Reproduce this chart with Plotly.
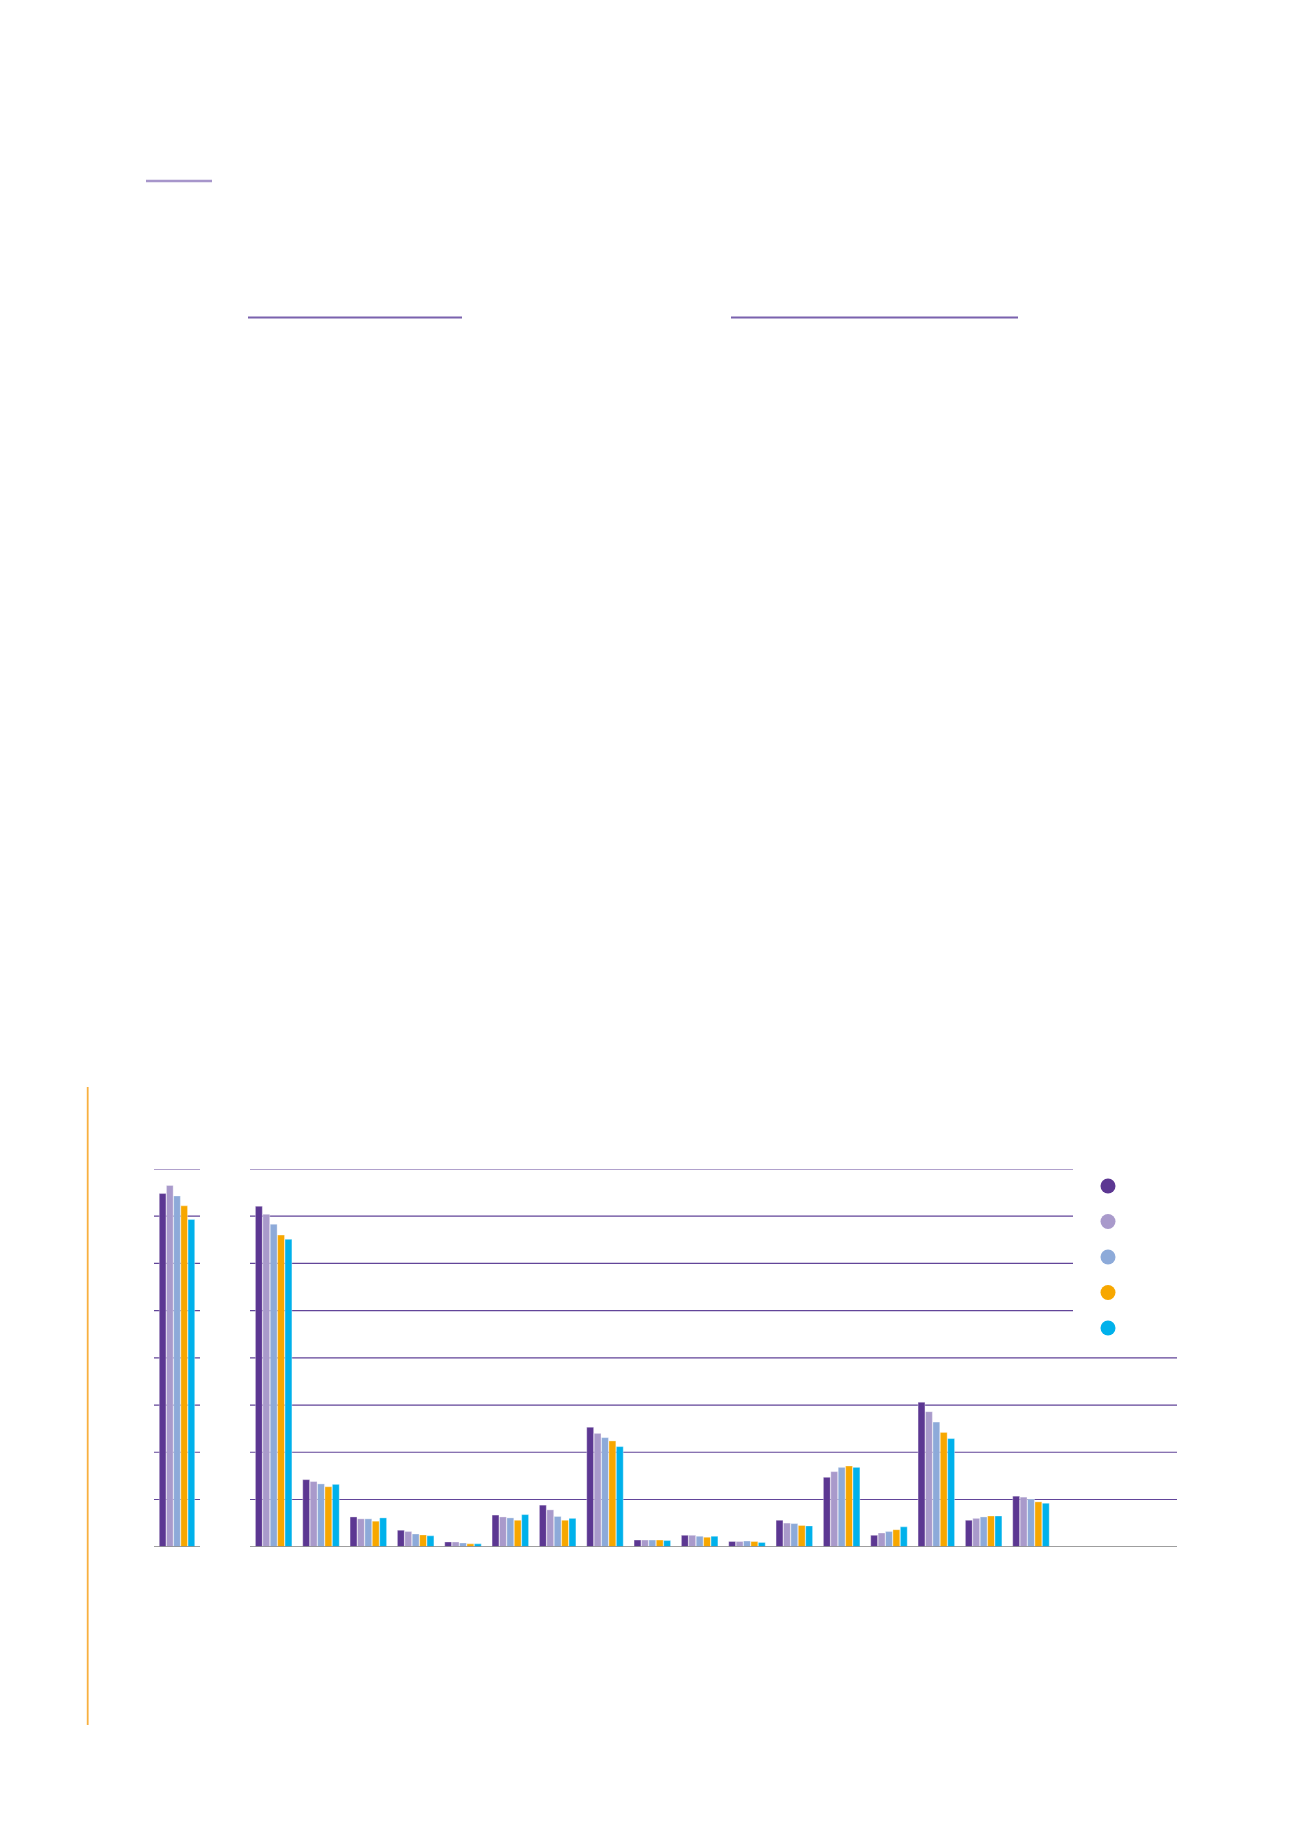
import plotly.graph_objects as go

# Page size of the reference picture, in pixels. The browser puts an 8px
# body margin round the plot, so the figure is shrunk and shifted by that.
W, H = 1300, 1839
PAGE_MARGIN = 8
FIG_W, FIG_H = W - 2 * PAGE_MARGIN, H - 2 * PAGE_MARGIN


def px_x(v):
    return (v - PAGE_MARGIN) / FIG_W


def px_y(v):
    return 1 - (v - PAGE_MARGIN) / FIG_H


# Data
series_names = ['Series 1', 'Series 2', 'Series 3', 'Series 4', 'Series 5']
series_colors = ['#5c3792', '#a99acb', '#8daad9', '#f7a700', '#00b1eb']

total_category = ['Total']
total_values = [7.48, 7.65, 7.43, 7.22, 6.93]

categories = [
    'C1', 'C2', 'C3', 'C4', 'C5', 'C6', 'C7', 'C8', 'C9',
    'C10', 'C11', 'C12', 'C13', 'C14', 'C15', 'C16', 'C17',
]
series_1 = [7.21, 1.42, 0.63, 0.35, 0.10, 0.67, 0.88, 2.53, 0.14,
            0.24, 0.11, 0.56, 1.47, 0.24, 3.06, 0.56, 1.07]
series_2 = [7.04, 1.38, 0.59, 0.32, 0.10, 0.63, 0.78, 2.40, 0.14,
            0.24, 0.11, 0.50, 1.59, 0.29, 2.86, 0.60, 1.05]
series_3 = [6.83, 1.33, 0.59, 0.27, 0.08, 0.61, 0.64, 2.31, 0.14,
            0.22, 0.12, 0.49, 1.68, 0.32, 2.64, 0.63, 1.01]
series_4 = [6.60, 1.27, 0.54, 0.25, 0.06, 0.56, 0.56, 2.24, 0.14,
            0.20, 0.11, 0.45, 1.71, 0.36, 2.42, 0.65, 0.95]
series_5 = [6.51, 1.32, 0.61, 0.23, 0.06, 0.68, 0.60, 2.12, 0.13,
            0.22, 0.09, 0.44, 1.68, 0.42, 2.29, 0.65, 0.92]
all_series = [series_1, series_2, series_3, series_4, series_5]

grid_values = [1, 2, 3, 4, 5, 6, 7, 8]

fig = go.Figure()

# Left panel: one group of five bars
for i, name in enumerate(series_names):
    fig.add_trace(go.Bar(
        name=name,
        x=total_category,
        y=[total_values[i]],
        marker_color=series_colors[i],
        marker_line=dict(color='rgba(255,255,255,0.55)', width=0.6),
        showlegend=False,
        xaxis='x',
        yaxis='y',
    ))

# Main panel: 17 groups
for i, name in enumerate(series_names):
    fig.add_trace(go.Bar(
        name=name,
        x=categories,
        y=all_series[i],
        marker_color=series_colors[i],
        marker_line=dict(color='rgba(255,255,255,0.55)', width=0.6),
        showlegend=False,
        xaxis='x2',
        yaxis='y2',
    ))

shapes = []
grid_color = '#624599'

# Gridlines, left panel
for g in grid_values:
    shapes.append(dict(type='line', xref='x domain', yref='y',
                       x0=0, x1=1, y0=g, y1=g,
                       line=dict(color=grid_color, width=1.2), layer='below'))
# Gridlines, main panel (the upper ones stop before the legend)
for g in grid_values:
    x_end = 1 if g <= 4 else (1073 - 250) / (1177 - 250)
    shapes.append(dict(type='line', xref='x2 domain', yref='y2',
                       x0=0, x1=x_end, y0=g, y1=g,
                       line=dict(color=grid_color, width=1.2), layer='below'))
# Baselines
for xr, yr in [('x domain', 'y'), ('x2 domain', 'y2')]:
    shapes.append(dict(type='line', xref=xr, yref=yr, x0=0, x1=1, y0=0, y1=0,
                       line=dict(color='#7f7f7f', width=1.5)))

# Legend dots
legend_y = [1186, 1221.5, 1257, 1292.5, 1328]
for color, ly in zip(series_colors, legend_y):
    shapes.append(dict(type='circle', xref='paper', yref='paper',
                       x0=px_x(1100.5), x1=px_x(1115.5),
                       y0=px_y(ly + 7.5), y1=px_y(ly - 7.5),
                       fillcolor=color, line=dict(width=0)))

# Decorative rules of the page
shapes.append(dict(type='line', xref='paper', yref='paper',
                   x0=px_x(146), x1=px_x(212), y0=px_y(181), y1=px_y(181),
                   line=dict(color='#a796cb', width=2.5)))
shapes.append(dict(type='line', xref='paper', yref='paper',
                   x0=px_x(248), x1=px_x(462), y0=px_y(317.5), y1=px_y(317.5),
                   line=dict(color='#7a62ae', width=2)))
shapes.append(dict(type='line', xref='paper', yref='paper',
                   x0=px_x(731), x1=px_x(1018), y0=px_y(317.5), y1=px_y(317.5),
                   line=dict(color='#7a62ae', width=2)))
shapes.append(dict(type='line', xref='paper', yref='paper',
                   x0=px_x(87.7), x1=px_x(87.7), y0=px_y(1087), y1=px_y(1725),
                   line=dict(color='#f8b040', width=1.8)))

y_domain = [px_y(1546.7), px_y(1169)]

fig.update_layout(
    width=FIG_W,
    height=FIG_H,
    margin=dict(l=0, r=0, t=0, b=0),
    paper_bgcolor='white',
    plot_bgcolor='white',
    barmode='group',
    bargap=0.218,
    bargroupgap=0.07,
    showlegend=False,
    shapes=shapes,
    xaxis=dict(domain=[px_x(154), px_x(200)], range=[-0.5, 0.5],
               showticklabels=False, showgrid=False, zeroline=False,
               ticks=''),
    xaxis2=dict(domain=[px_x(250), px_x(1177)], range=[-0.5, 19.085],
                showticklabels=False, showgrid=False, zeroline=False,
                ticks=''),
    yaxis=dict(domain=y_domain, range=[0, 8], showticklabels=False,
               showgrid=False, zeroline=False, anchor='x'),
    yaxis2=dict(domain=y_domain, range=[0, 8], showticklabels=False,
                showgrid=False, zeroline=False, anchor='x2'),
)

fig.write_html('out.html')
